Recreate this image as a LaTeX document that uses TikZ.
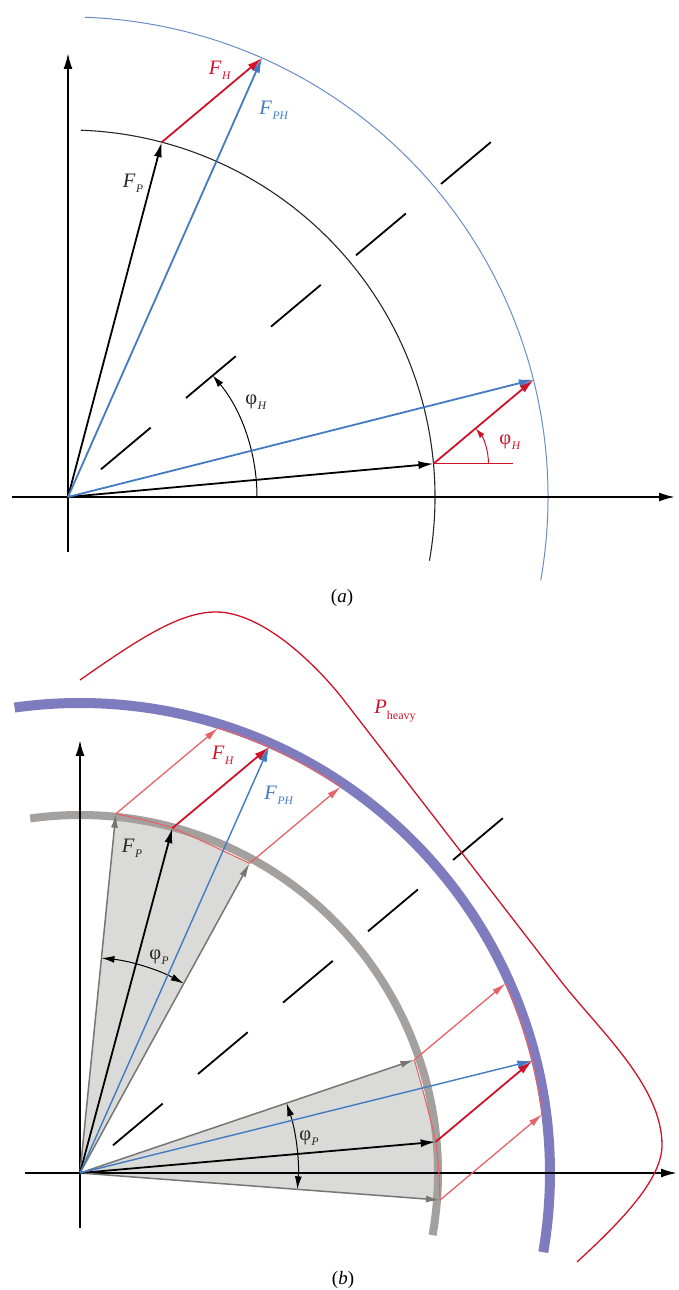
\documentclass[tikz,border=0pt]{standalone}
\usepackage{fontspec}
\setmainfont{Liberation Serif}
\usetikzlibrary{arrows.meta,calc}
\definecolor{cred}{RGB}{208,18,40}
\definecolor{clred}{RGB}{230,100,105}
\definecolor{cblue}{RGB}{66,122,196}
\definecolor{cblarc}{RGB}{105,140,200}
\definecolor{cgray}{RGB}{118,118,118}
\definecolor{cgarc}{RGB}{163,160,157}
\definecolor{cfill}{RGB}{218,218,216}
\definecolor{cband}{RGB}{126,123,190}
\definecolor{ctext}{RGB}{40,40,40}
\newcommand{\FF}[2]{\textit{#1}\kern0.5pt\raisebox{-0.55ex}{\fontsize{11.5}{11.5}\selectfont\textit{#2}}}
\newcommand{\PHI}[1]{φ\kern0.5pt\raisebox{-0.55ex}{\fontsize{11.5}{11.5}\selectfont\textit{#1}}}
\begin{document}
\begin{tikzpicture}[x=1pt,y=1pt,
  axarrow/.style={line width=2pt,-{Latex[length=16pt,width=9pt]}},
  vec/.style={line width=1.8pt,-{Latex[length=15pt,width=8pt]}},
  grayvec/.style={cgray,line width=1.5pt,-{Latex[length=14pt,width=7pt]}},
  redvec/.style={clred,line width=1.3pt,-{Latex[length=14pt,width=7pt]}},
  dashline/.style={line width=1.8pt,dash pattern=on 65pt off 46pt},
  lab/.style={font=\fontsize{20.5}{22}\selectfont, inner sep=0pt},
  captxt/.style={font=\fontsize{19}{21}\selectfont, inner sep=0pt}
]
\useasboundingbox (0,0) rectangle (678,1290);

%================ panel (a) ================
\begin{scope}[shift={(68,793)}]
\coordinate (Oa) at (0,0);
\coordinate (aYb) at (0,-55);
\coordinate (aYt) at (0,444);
\coordinate (aXl) at (-56,0);
\coordinate (aXr) at (607,0);
\coordinate (aP1) at (75.2:367);
\coordinate (aH1) at ($(aP1)+(40:131)$);
\coordinate (aP2) at (5.2:367);
\coordinate (aH2) at ($(aP2)+(40:131)$);
\coordinate (aR) at ($(aP2)+(80,0)$);
\coordinate (aD1) at (40:43);
\coordinate (aD2) at (40:554);

\draw[line width=1.1pt, black!85] (-10:367) arc[start angle=-10,end angle=88,radius=367];
\draw[line width=1pt, cblarc] (-10:480) arc[start angle=-10,end angle=88,radius=480];
\draw[dashline] (aD1) -- (aD2);
\draw[axarrow] (aYb) -- (aYt);
\draw[axarrow] (aXl) -- (aXr);

\draw[line width=1pt,-{Latex[length=12pt,width=7pt]}] (189,0) arc[start angle=0,end angle=40,radius=189];
\draw[cred,line width=0.9pt] (aP2) -- (aR);
\draw[cred,line width=1pt,-{Latex[length=10pt,width=6pt]}] ($(aP2)+(55,0)$) arc[start angle=0,end angle=40,radius=55];

\draw[vec] (Oa) -- (aP1);
\draw[vec] (Oa) -- (aP2);
\draw[vec,cblue] (Oa) -- (aH1);
\draw[vec,cblue] (Oa) -- (aH2);
\draw[vec,cred] (aP1) -- (aH1);
\draw[vec,cred] (aP2) -- (aH2);

\node[lab,text=cred] (aLH) at (152,427) {\FF{F}{H}};
\node[lab,text=cblue] (aLPH) at (206,387) {\FF{F}{PH}};
\node[lab,text=ctext] (aLP) at (65,314) {\FF{F}{P}};
\node[lab,text=ctext] (aLphi) at (188,95) {\PHI{H}};
\node[lab,text=cred] (aLphi2) at (442,55) {\PHI{H}};
\node[captxt] (capa) at (274,-101) {(\textit{a})};
\end{scope}

%================ panel (b) ================
\begin{scope}[shift={(80,117)}]
\coordinate (Ob) at (0,0);
\coordinate (bYb) at (0,-55);
\coordinate (bYt) at (0,433);
\coordinate (bXl) at (-55,0);
\coordinate (bXr) at (597,0);
% upper sector
\coordinate (bA1) at (84.3:361);
\coordinate (bP1) at (75:357);
\coordinate (bB1) at (61.3:353);
\coordinate (bA1h) at ($(bA1)+(40:133.5)$);
\coordinate (bP1h) at ($(bP1)+(40:126.2)$);
\coordinate (bB1h) at ($(bB1)+(40:119.1)$);
% lower sector
\coordinate (bA2) at (-4.3:361);
\coordinate (bP2) at (5:357);
\coordinate (bB2) at (18.7:353);
\coordinate (bA2h) at ($(bA2)+(40:133.5)$);
\coordinate (bP2h) at ($(bP2)+(40:126.2)$);
\coordinate (bB2h) at ($(bB2)+(40:119.1)$);
\coordinate (bD1) at (40:43);
\coordinate (bD2) at (40:554);
% P heavy curve points
\coordinate (c0) at (0,493);
\coordinate (c1) at (136,561);
\coordinate (c2) at (266,470);
\coordinate (c3) at (480,193);
\coordinate (c4) at (582,28);
\coordinate (c5) at (497,-89);

\fill[cfill] (Ob) -- plot[smooth] coordinates {(bB1) (bP1) (bA1)} -- cycle;
\fill[cfill] (Ob) -- plot[smooth] coordinates {(bA2) (bP2) (bB2)} -- cycle;

\draw[cgarc,line width=8pt] (-10:358) arc[start angle=-10,end angle=98,radius=358];
\draw[cband,line width=10pt] (-9.7:470) arc[start angle=-9.7,end angle=98,radius=470];

\draw[dashline] (bD1) -- (bD2);
\draw[axarrow] (bYb) -- (bYt);
\draw[axarrow] (bXl) -- (bXr);

% red outlines
\draw[clred,line width=1.1pt] plot[smooth] coordinates {(bB1) (bP1) (bA1)};
\draw[clred,line width=1.1pt] plot[smooth] coordinates {(bA2) (bP2) (bB2)};
\draw[clred,line width=1.1pt] (55.97:466) arc[start angle=55.97,end angle=72.76,radius=466];
\draw[clred,line width=1.1pt] (7.24:466) arc[start angle=7.24,end angle=24.03,radius=466];

% gray edge vectors
\draw[grayvec] (Ob) -- (bA1);
\draw[grayvec] (Ob) -- (bB1);
\draw[grayvec] (Ob) -- (bA2);
\draw[grayvec] (Ob) -- (bB2);
% light red
\draw[redvec] (bA1) -- (bA1h);
\draw[redvec] (bB1) -- (bB1h);
\draw[redvec] (bA2) -- (bA2h);
\draw[redvec] (bB2) -- (bB2h);

% phi_P arcs
\draw[line width=1pt,{Latex[length=13pt,width=7pt]}-{Latex[length=13pt,width=7pt]}] (61.3:216) arc[start angle=61.3,end angle=84.3,radius=216];
\draw[line width=1pt,{Latex[length=13pt,width=7pt]}-{Latex[length=13pt,width=7pt]}] (-4.3:218) arc[start angle=-4.3,end angle=18.7,radius=218];

% main vectors
\draw[vec] (Ob) -- (bP1);
\draw[vec] (Ob) -- (bP2);
\draw[vec,cblue,line width=1.4pt] (Ob) -- (bP1h);
\draw[vec,cblue,line width=1.4pt] (Ob) -- (bP2h);
\draw[vec,cred] (bP1) -- (bP1h);
\draw[vec,cred] (bP2) -- (bP2h);

% P heavy curve
\draw[cred,line width=1.3pt] (c0) .. controls (60,535) and (100,561) .. (c1)
  .. controls (185,561) and (242,502) .. (c2) -- (c3)
  .. controls (517,145) and (582,88) .. (c4)
  .. controls (582,-5) and (545,-45) .. (c5);

\node[lab,text=cred] (bLH) at (143,418) {\FF{F}{H}};
\node[lab,text=cblue] (bLPH) at (199,378) {\FF{F}{PH}};
\node[lab,text=ctext] (bLP) at (52,325) {\FF{F}{P}};
\node[lab,text=ctext] (bLphi1) at (79,216) {\PHI{P}};
\node[lab,text=ctext] (bLphi2) at (229,35) {\PHI{P}};
\node[lab,text=cred] (bLPh) at (315,462) {\textit{P}\raisebox{-0.7ex}{\fontsize{12}{12}\selectfont heavy}};
\node[captxt] (capb) at (263,-107) {(\textit{b})};
\end{scope}
\end{tikzpicture}
\end{document}
